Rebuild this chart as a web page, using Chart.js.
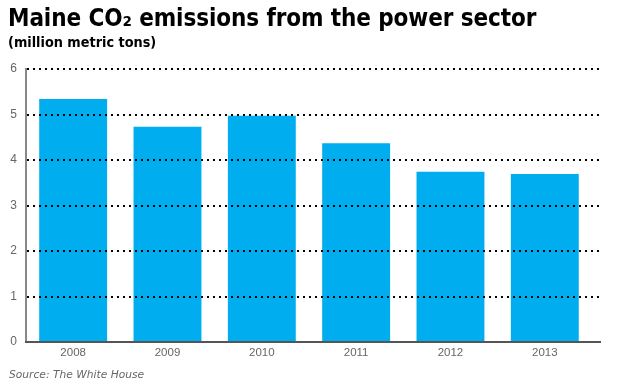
<!DOCTYPE html>
<html>
<head>
<meta charset="utf-8">
<script src="https://cdn.jsdelivr.net/npm/chart.js@4/dist/chart.umd.min.js"></script>
<style>
  html, body { margin: 0; padding: 0; background: #fff; }
  #wrap { position: relative; width: 624px; height: 390px; overflow: hidden; }
  #c { position: absolute; left: 0; top: 0; }
  .t { position: absolute; white-space: nowrap; color: #000; }
  #title { left: 8px; top: 4px; font: bold 24px "DejaVu Sans Condensed", "Liberation Sans", sans-serif; letter-spacing: -0.1px; }
  #sub { left: 8px; top: 34px; font: bold 14.3px "DejaVu Sans Condensed", "Liberation Sans", sans-serif; }
  #src { left: 9px; top: 368px; font: oblique 10.7px "DejaVu Sans", sans-serif; color: #666; }
</style>
</head>
<body>
<div id="wrap">
  <canvas id="c" width="624" height="390"></canvas>
  <div class="t" id="title">Maine CO₂ emissions from the power sector</div>
  <div class="t" id="sub">(million metric tons)</div>
  <div class="t" id="src">Source: The White House</div>
</div>
<script>
const categories = ["2008", "2009", "2010", "2011", "2012", "2013"];
const emissions = [5.34, 4.73, 4.97, 4.37, 3.74, 3.69];
const yTicks = [0, 1, 2, 3, 4, 5, 6];

// the reference axis runs a little past the last category slot
const shrinkX = {
  id: 'shrinkX',
  afterLayout(chart) {
    const s = chart.scales.x;
    s._length = (s.right - s.left) * 0.986;
    s._endPixel = s._startPixel + s._length;
  }
};

// dotted value grid is drawn on top of the bars, then the axis lines
const gridOnTop = {
  id: 'gridOnTop',
  afterDatasetsDraw(chart) {
    const y = chart.scales.y, x = chart.scales.x;
    y.drawGrid(chart.chartArea);
    y.drawBorder();
    x.drawBorder();
  }
};

new Chart(document.getElementById('c'), {
  type: 'bar',
  data: {
    labels: categories,
    datasets: [{
      data: emissions,
      backgroundColor: '#00adef',
      borderWidth: 0,
      barPercentage: 0.72,
      categoryPercentage: 1.0
    }]
  },
  plugins: [shrinkX, gridOnTop],
  options: {
    responsive: false,
    animation: false,
    layout: { padding: { left: 0, right: 24, top: 69, bottom: 0 } },
    plugins: { legend: { display: false }, tooltip: { enabled: false } },
    scales: {
      x: {
        grid: { display: false, drawTicks: false },
        border: { display: true, color: '#555', width: 2 },
        ticks: { color: '#666', font: { family: 'Liberation Sans', size: 11.5 }, padding: 4 },
        afterFit(s) { s.height = 48; }
      },
      y: {
        min: 0, max: 6,
        afterBuildTicks(s) { s.ticks = yTicks.map(v => ({ value: v })); },
        grid: {
          color: (ctx) => ctx.tick && ctx.tick.value === 0 ? 'rgba(0,0,0,0)' : '#000',
          lineWidth: 2,
          drawTicks: false
        },
        border: { display: true, color: '#888', width: 2, dash: [2, 4] },
        ticks: { color: '#666', font: { family: 'Liberation Sans', size: 12 }, padding: 9 },
        afterFit(s) { s.width = 26; }
      }
    }
  }
});
</script>
</body>
</html>
